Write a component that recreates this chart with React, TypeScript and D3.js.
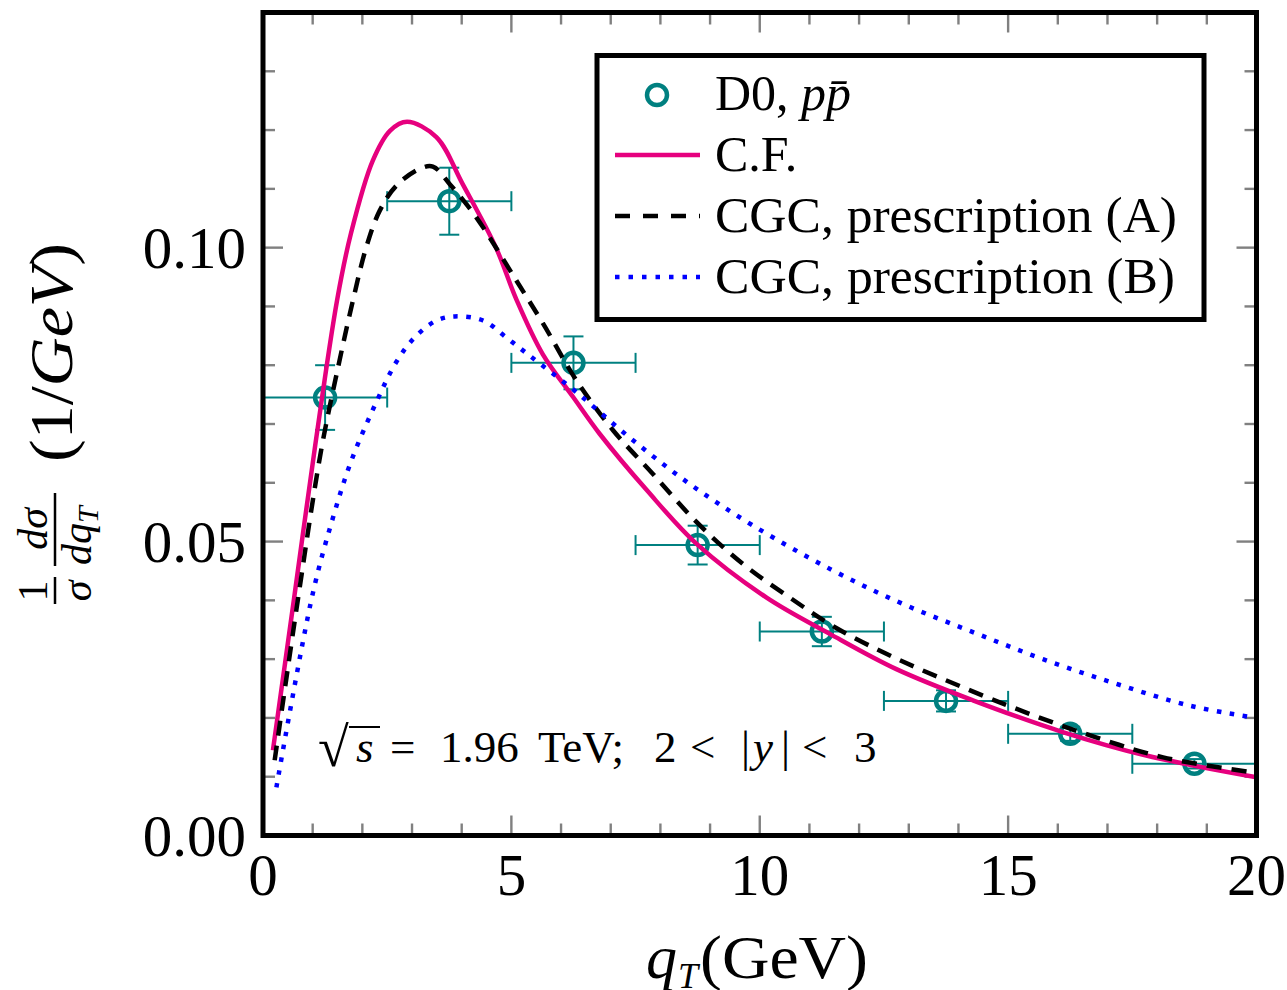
import React from "react";
import * as d3 from "d3";

// ---- data ----
const dataQT = [1.25, 3.75, 6.25, 8.75, 11.25, 13.75, 16.25, 18.75];
const dataY = [0.0745, 0.1079, 0.0804, 0.0494, 0.0347, 0.0229, 0.0173, 0.0122];
const dataXErr = [1.25, 1.25, 1.25, 1.25, 1.25, 1.25, 1.25, 1.25];
const dataYErr = [0.0055, 0.0057, 0.0045, 0.0033, 0.0025, 0.0018, 0.0012, 0.0008];

const cfQT = [0.2, 0.62, 1.05, 1.49, 1.77, 2.21, 2.56, 2.9, 3.49, 4.02, 4.69, 5.1, 5.63, 6.25, 6.78, 7.72, 8.73, 10.13, 11.41, 12.75, 14.29, 16.1, 17.78, 20];
const cfY = [0.0145, 0.04, 0.0663, 0.091, 0.1024, 0.1148, 0.1199, 0.1214, 0.1188, 0.1108, 0.1, 0.0912, 0.0819, 0.0745, 0.0683, 0.0588, 0.0496, 0.0405, 0.0343, 0.0283, 0.023, 0.0176, 0.0136, 0.0099];

const cgcAQT = [0.235, 0.7, 1.17, 1.51, 1.81, 2.08, 2.35, 2.68, 3.15, 3.42, 3.76, 4.29, 5.1, 5.63, 6.31, 7.05, 7.85, 8.73, 9.66, 10.6, 11.54, 12.75, 14.09, 15.43, 16.77, 18.12, 19.86, 20];
const cgcAY = [0.0128, 0.04, 0.0655, 0.0796, 0.091, 0.1001, 0.1063, 0.1105, 0.1134, 0.1138, 0.1108, 0.1052, 0.0944, 0.0872, 0.0774, 0.0689, 0.0615, 0.0533, 0.0462, 0.0405, 0.0353, 0.0301, 0.0252, 0.0207, 0.0167, 0.0133, 0.0108, 0.0106];

const cgcBQT = [0.27, 1.0, 1.41, 1.78, 2.28, 2.68, 3.05, 3.49, 3.86, 4.43, 4.9, 5.37, 6.31, 7.38, 8.59, 9.87, 11.47, 12.88, 14.29, 15.7, 17.18, 18.65, 20];
const cgcBY = [0.0082, 0.0411, 0.0541, 0.0638, 0.0737, 0.0805, 0.0847, 0.0876, 0.0883, 0.0876, 0.0847, 0.0816, 0.0754, 0.0677, 0.0598, 0.0527, 0.0451, 0.0394, 0.0346, 0.03, 0.0258, 0.0221, 0.02];

const xTickValues = [0, 5, 10, 15, 20];
const xTickLabels = ["0", "5", "10", "15", "20"];
const yTickValues = [0, 0.05, 0.1];
const yTickLabels = ["0.00", "0.05", "0.10"];

const legendLabels = ["D0, ", "C.F.", "CGC, prescription (A)", "CGC, prescription (B)"];

// ---- styling ----
const FONT = "'Liberation Serif', 'Times New Roman', serif";
const TEAL = "#008080";
const MAGENTA = "#e6007e";
const BLUE = "#0000ff";
const TICKGRAY = "#808080";

const W = 1287;
const H = 990;
const L = 263, R = 1256.5, T = 12.5, B = 835.5;

export default function App() {
  const x = d3.scaleLinear().domain([0, 20]).range([L, R]);
  const y = d3.scaleLinear().domain([0, 0.14]).range([B, T]);

  const line = d3
    .line<[number, number]>()
    .x((d) => x(d[0]))
    .y((d) => y(d[1]))
    .curve(d3.curveCatmullRom.alpha(0.5));

  const cfPath = line(cfQT.map((q, i) => [q, cfY[i]]) as [number, number][]) || "";
  const aPath = line(cgcAQT.map((q, i) => [q, cgcAY[i]]) as [number, number][]) || "";
  const bPath = line(cgcBQT.map((q, i) => [q, cgcBY[i]]) as [number, number][]) || "";

  const xMinor = x.ticks(20).filter((v) => v > 0 && v < 20);
  const yMinor = y.ticks(14).filter((v) => v > 0.0001 && v < 0.1399);
  const isMajorX = (v: number) => Math.abs(v % 5) < 1e-9;
  const isMajorY = (v: number) => Math.abs(Math.round(v * 100) % 5) < 1e-9;

  const minorLen = 12;
  const majorLen = 20;

  const legendX = 597, legendY = 55.5, legendW = 607, legendH = 264;
  const rowBase = [110, 171, 232, 293];
  const symX0 = 615, symX1 = 700, textX = 715;

  return (
    <svg
      width={W}
      height={H}
      viewBox={`0 0 ${W} ${H}`}
      style={{ position: "absolute", left: 0, top: 0, display: "block", background: "#fff" }}
      fontFamily={FONT}
    >
      <defs>
        <clipPath id="plotClip">
          <rect x={L} y={T} width={R - L} height={B - T} />
        </clipPath>
      </defs>
      <rect x={0} y={0} width={W} height={H} fill="#fff" />

      {/* ticks */}
      <g stroke={TICKGRAY} strokeWidth={2.4}>
        {xMinor.map((v) => {
          const len = isMajorX(v) ? majorLen : minorLen;
          return (
            <g key={"xt" + v}>
              <line x1={x(v)} x2={x(v)} y1={B} y2={B - len} />
              <line x1={x(v)} x2={x(v)} y1={T} y2={T + len} />
            </g>
          );
        })}
        {yMinor.map((v) => {
          const len = isMajorY(v) ? majorLen : minorLen;
          return (
            <g key={"yt" + v}>
              <line x1={L} x2={L + len} y1={y(v)} y2={y(v)} />
              <line x1={R} x2={R - len} y1={y(v)} y2={y(v)} />
            </g>
          );
        })}
      </g>

      {/* data points with error bars */}
      <g stroke={TEAL} fill="none">
        {dataQT.map((q, i) => {
          const cx = x(q), cy = y(dataY[i]);
          const xl = x(q - dataXErr[i]), xr = x(q + dataXErr[i]);
          const yt = y(dataY[i] + dataYErr[i]), yb = y(dataY[i] - dataYErr[i]);
          const cap = 10;
          return (
            <g key={"pt" + i}>
              <line x1={xl} x2={xr} y1={cy} y2={cy} strokeWidth={2} />
              <line x1={xl} x2={xl} y1={cy - cap} y2={cy + cap} strokeWidth={2} />
              <line x1={xr} x2={xr} y1={cy - cap} y2={cy + cap} strokeWidth={2} />
              <line x1={cx} x2={cx} y1={yt} y2={yb} strokeWidth={2} />
              <line x1={cx - cap} x2={cx + cap} y1={yt} y2={yt} strokeWidth={2} />
              <line x1={cx - cap} x2={cx + cap} y1={yb} y2={yb} strokeWidth={2} />
              <circle cx={cx} cy={cy} r={10} strokeWidth={4.5} />
            </g>
          );
        })}
      </g>

      {/* curves */}
      <g clipPath="url(#plotClip)" fill="none">
        <path d={cfPath} stroke={MAGENTA} strokeWidth={4.5} />
        <path d={aPath} stroke="#000" strokeWidth={4.5} strokeDasharray="15 10" />
        <path d={bPath} stroke={BLUE} strokeWidth={4.5} strokeDasharray="4.5 8.5" />
      </g>

      {/* frame */}
      <rect x={L} y={T} width={R - L} height={B - T} fill="none" stroke="#000" strokeWidth={5} />

      {/* tick labels */}
      <g fontSize={59} fill="#000">
        {xTickValues.map((v, i) => (
          <text key={"xl" + v} x={x(v)} y={895} textAnchor="middle">
            {xTickLabels[i]}
          </text>
        ))}
        {yTickValues.map((v, i) => (
          <text key={"yl" + v} x={246} y={y(v) + 20.5} textAnchor="end">
            {yTickLabels[i]}
          </text>
        ))}
      </g>

      {/* x axis label */}
      <text y={978} fontSize={62} fill="#000">
        <tspan x={646} fontStyle="italic">q</tspan>
        <tspan x={678} dy={10} fontSize={36} fontStyle="italic">T</tspan>
        <tspan x={700} dy={-10} textLength={168} lengthAdjust="spacingAndGlyphs">(GeV)</tspan>
      </text>

      {/* y axis label (rotated) */}
      <g transform="translate(55,0) rotate(-90)" fill="#000">
        <text x={-591} y={-8} fontSize={42} textAnchor="middle">1</text>
        <line x1={-604} x2={-577} y1={0} y2={0} stroke="#000" strokeWidth={2.5} />
        <text x={-591} y={36} fontSize={42} textAnchor="middle" fontStyle="italic">σ</text>

        <text x={-529} y={-8} fontSize={42} textAnchor="middle" fontStyle="italic">dσ</text>
        <line x1={-566} x2={-493} y1={0} y2={0} stroke="#000" strokeWidth={2.5} />
        <text y={36} fontSize={42} fontStyle="italic">
          <tspan x={-565}>dq</tspan>
          <tspan dy={7} fontSize={30}>T</tspan>
        </text>

        <text x={-352.5} y={17} fontSize={62} textAnchor="middle" textLength={219} lengthAdjust="spacingAndGlyphs">
          (1/<tspan fontStyle="italic">GeV</tspan>)
        </text>
      </g>

      {/* annotation */}
      <text y={762} fontSize={45} fill="#000">
        <tspan x={318} fontSize={56} dy={4}>√</tspan>
        <tspan x={356} dy={-4} fontStyle="italic">s</tspan>
        <tspan x={390}>=</tspan>
        <tspan x={440}>1.96</tspan>
        <tspan x={538}>TeV;</tspan>
        <tspan x={654}>2</tspan>
        <tspan x={690}>&lt;</tspan>
        <tspan x={741}>|</tspan>
        <tspan x={753} fontStyle="italic">y</tspan>
        <tspan x={781}>|</tspan>
        <tspan x={802}>&lt;</tspan>
        <tspan x={854}>3</tspan>
      </text>
      <line x1={349} x2={380} y1={727} y2={727} stroke="#000" strokeWidth={2} />

      {/* legend */}
      <rect x={legendX} y={legendY} width={legendW} height={legendH} fill="#fff" stroke="#000" strokeWidth={5} />
      <circle cx={657} cy={rowBase[0] - 15} r={10} fill="none" stroke={TEAL} strokeWidth={4.5} />
      <line x1={symX0} x2={symX1} y1={rowBase[1] - 16} y2={rowBase[1] - 16} stroke={MAGENTA} strokeWidth={4.5} />
      <line x1={symX0} x2={symX1} y1={rowBase[2] - 16} y2={rowBase[2] - 16} stroke="#000" strokeWidth={4.5} strokeDasharray="15 13" />
      <line x1={symX0} x2={symX1} y1={rowBase[3] - 16} y2={rowBase[3] - 16} stroke={BLUE} strokeWidth={4.5} strokeDasharray="4.5 9" />
      <g fontSize={50} fill="#000">
        <text x={textX} y={rowBase[0]}>
          {legendLabels[0]}
          <tspan fontStyle="italic">p{"p\u0304"}</tspan>
        </text>
        <text x={textX} y={rowBase[1]}>{legendLabels[1]}</text>
        <text x={textX} y={rowBase[2]} textLength={462} lengthAdjust="spacingAndGlyphs">{legendLabels[2]}</text>
        <text x={textX} y={rowBase[3]} textLength={460} lengthAdjust="spacingAndGlyphs">{legendLabels[3]}</text>
      </g>
    </svg>
  );
}
